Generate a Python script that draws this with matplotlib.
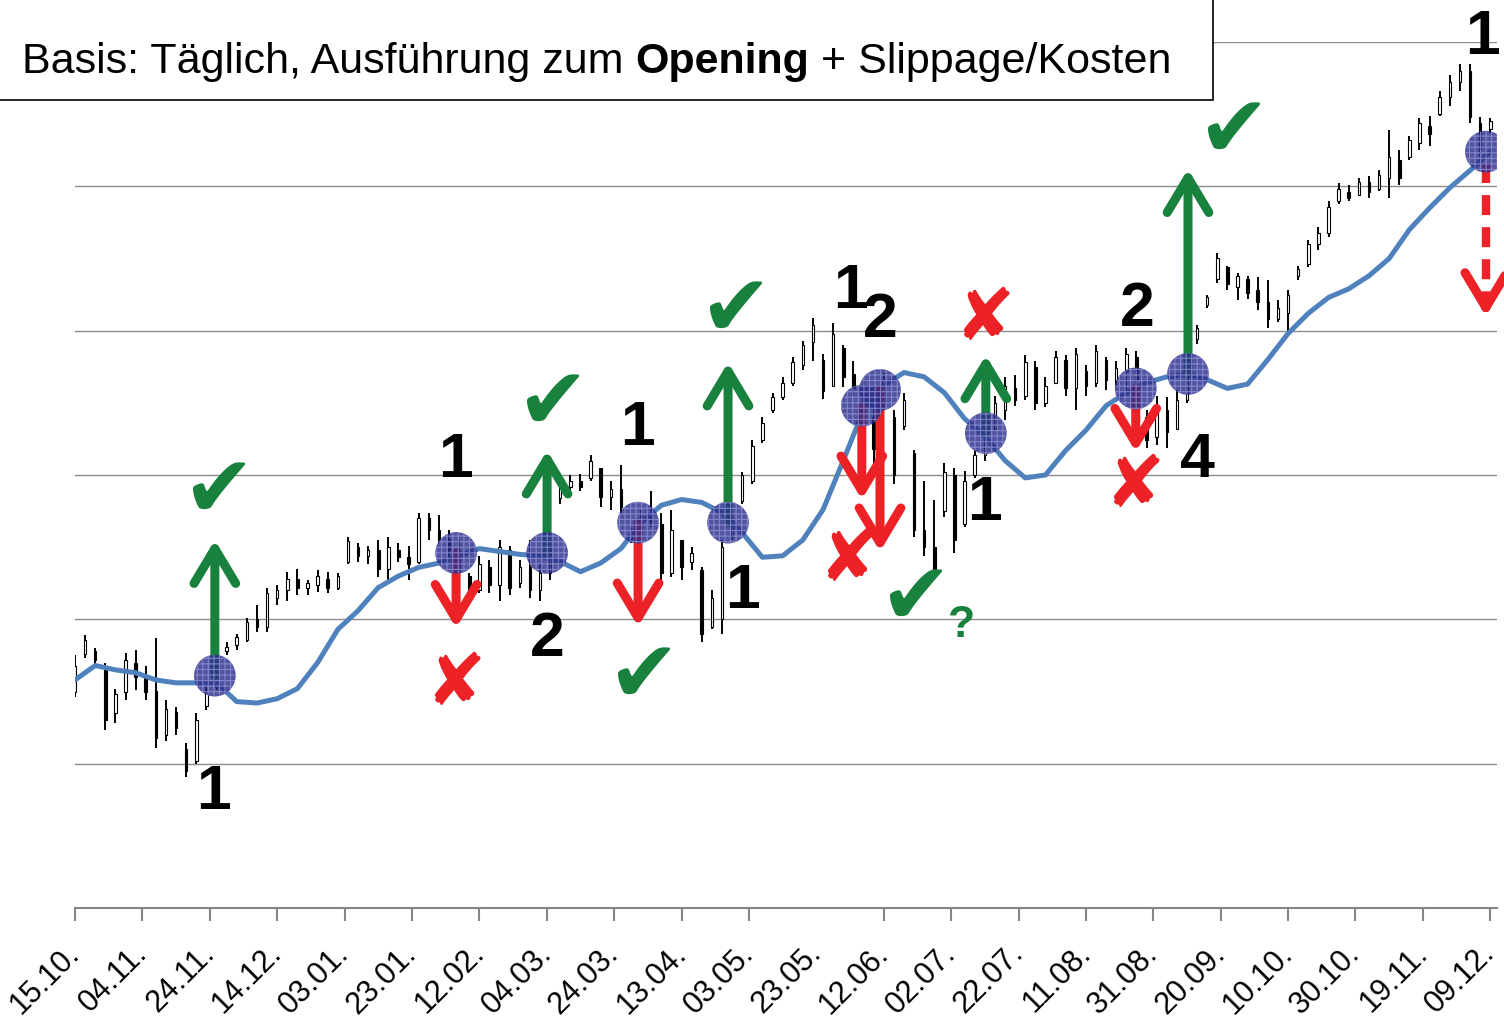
import numpy as np
import matplotlib
matplotlib.use('Agg')
import matplotlib.pyplot as plt
from matplotlib.patches import Rectangle

plt.rcParams['font.family'] = ['Liberation Sans', 'DejaVu Sans']
plt.rcParams['hatch.color'] = '#8E91CF'
plt.rcParams['hatch.linewidth'] = 0.8

# Kerzen alle 3 Kalendertage ab 15.10. (Tag 0)
bar_days = np.arange(0, 421, 3)
hi = [175, 189, 180, 170, 152, 177, 179, 168, 187, 144,
      139, 114, 135, 153, 168, 184, 190, 201, 210, 222,
      224, 233, 235, 227, 234, 233, 232, 257, 253, 251,
      255, 257, 253, 251, 274, 274, 272, 262, 255, 232,
      244, 241, 255, 251, 241, 255, 238, 255, 294, 300,
      301, 314, 305, 296, 307, 264, 276, 289, 274, 276,
      255, 250, 236, 220, 255, 274, 302, 324, 340, 357,
      368, 382, 393, 409, 384, 405, 390, 379, 366, 362,
      371, 345, 357, 317, 296, 283, 308, 305, 303, 317,
      331, 355, 368, 369, 383, 379, 368, 386, 383, 388,
      376, 390, 382, 379, 388, 386, 345, 355, 354, 359,
      376, 404, 425, 454, 445, 440, 438, 437, 435, 421,
      428, 445, 463, 472, 490, 502, 501, 506, 507, 511,
      539, 525, 535, 547, 549, 566, 577, 585, 585, 548,
      547]
lo = [146, 173, 168, 123, 128, 144, 151, 144, 111, 116,
      120, 91, 100, 137, 151, 175, 179, 184, 191, 191,
      210, 213, 217, 217, 219, 218, 220, 238, 240, 238,
      229, 227, 240, 227, 238, 255, 253, 241, 231, 213,
      218, 218, 213, 217, 222, 215, 213, 227, 280, 287,
      289, 296, 278, 276, 274, 253, 262, 264, 227, 229,
      227, 234, 184, 193, 190, 255, 280, 294, 322, 343,
      352, 362, 373, 379, 353, 366, 361, 355, 331, 305,
      345, 294, 331, 257, 244, 229, 271, 246, 264, 298,
      310, 331, 338, 348, 352, 345, 347, 364, 355, 345,
      355, 361, 359, 361, 359, 361, 319, 321, 319, 331,
      350, 391, 416, 433, 428, 421, 422, 414, 402, 406,
      398, 435, 444, 456, 465, 488, 490, 494, 492, 497,
      492, 501, 518, 525, 528, 549, 556, 566, 544, 520,
      537]
op = [150, 176, 178, 165, 135, 150, 170, 160, 150, 120,
      136, 110, 102, 140, 153, 178, 182, 186, 200, 195,
      215, 220, 228, 222, 224, 228, 222, 240, 250, 244,
      248, 235, 248, 243, 240, 270, 262, 256, 248, 230,
      220, 236, 224, 248, 225, 236, 220, 232, 284, 292,
      296, 298, 305, 285, 290, 262, 258, 272, 266, 232,
      255, 240, 234, 195, 200, 258, 282, 296, 324, 345,
      354, 364, 376, 392, 380, 362, 388, 370, 360, 340,
      350, 340, 334, 315, 262, 250, 275, 300, 266, 300,
      314, 332, 345, 360, 355, 375, 350, 364, 380, 360,
      372, 364, 380, 366, 372, 382, 340, 326, 345, 332,
      352, 394, 418, 436, 444, 430, 436, 428, 420, 408,
      412, 438, 446, 460, 468, 490, 496, 494, 503, 498,
      506, 518, 520, 530, 542, 550, 562, 572, 580, 544,
      540]
cl = [168, 186, 172, 130, 148, 172, 160, 150, 118, 138,
      125, 95, 130, 150, 165, 181, 188, 198, 195, 218,
      220, 228, 222, 225, 230, 222, 230, 254, 244, 248,
      235, 250, 243, 238, 270, 262, 256, 248, 236, 218,
      238, 224, 250, 222, 236, 220, 232, 250, 292, 296,
      292, 310, 285, 290, 278, 256, 272, 268, 232, 262,
      236, 246, 190, 215, 250, 270, 300, 320, 336, 354,
      364, 378, 390, 404, 358, 398, 368, 360, 338, 318,
      366, 300, 352, 262, 250, 235, 302, 255, 296, 314,
      326, 350, 362, 352, 378, 350, 362, 382, 360, 384,
      362, 386, 366, 374, 384, 366, 324, 348, 330, 352,
      372, 402, 423, 450, 432, 438, 426, 420, 408, 416,
      425, 443, 460, 468, 486, 498, 492, 503, 496, 508,
      520, 506, 532, 544, 536, 562, 572, 580, 548, 526,
      545]

ma_days = np.arange(0, 421, 6)
ma = [158, 168, 165, 163, 158, 156, 156, 156, 143, 142,
      145, 152, 170, 193, 206, 222, 230, 236, 239, 244,
      249, 247, 245, 244, 240, 233, 239, 249, 267, 279,
      283, 281, 274, 260, 243, 244, 255, 276, 310, 345,
      362, 371, 368, 357, 339, 327, 310, 298, 300, 317,
      331, 348, 357, 364, 368, 370, 366, 360, 363, 380,
      398, 412, 423, 429, 438, 450, 470, 485, 499, 511,
      524]

tick_days = np.arange(0, 421, 20)
tick_labels = ['15.10.', '04.11.', '24.11.', '14.12.', '03.01.', '23.01.',
               '12.02.', '04.03.', '24.03.', '13.04.', '03.05.', '23.05.',
               '12.06.', '02.07.', '22.07.', '11.08.', '31.08.', '20.09.',
               '10.10.', '30.10.', '19.11.', '09.12.']

# Kreuzungen Kurs / Durchschnitt und Pfeilspitzen
cross_days = [41.5, 113.1, 140.1, 167.1, 193.8, 233.5, 238.9, 270.3, 314.8, 330.3, 418.7]
cross_vals = [161, 246, 246, 267, 267, 348, 359, 329, 360, 370, 524]
arrow_tips = [255, 194, 317, 195, 378, 283, 247, 383, 316, 512, 410]

check_days = [42.4, 141.5, 168.5, 195.8, 343.6, 249.3]
check_vals = [287, 348, 159, 413, 537, 213]
fail_days = [112.8, 229.4, 270, 314.5]
fail_vals = [154, 240, 407, 291]
num_text = ['1', '1', '2', '1', '1', '1', '2', '1', '2', '4', '1']
num_days = [41, 112.8, 140, 166.8, 198.2, 230, 238.9, 270, 315.1, 333, 417.8]
num_vals = [80, 310, 186, 332, 219, 427, 407, 280, 415, 310, 603]

GREEN = '#17813D'
RED = '#EC2227'

fig = plt.figure(figsize=(15.04, 10.18), dpi=100)
ax = fig.add_axes([75 / 1504, 110 / 1018, 1422 / 1504, 866 / 1018])
ax.set_xlim(0, 422)
ax.set_ylim(0, 600)

hi, lo, op, cl = map(np.array, (hi, lo, op, cl))
up = cl >= op
ax.vlines(bar_days, lo, hi, color='black', lw=1.4, zorder=2)
ax.bar(bar_days[up], (cl - op)[up], bottom=op[up], width=0.75,
       color='white', edgecolor='black', lw=0.8, zorder=3)
ax.bar(bar_days[~up], (op - cl)[~up], bottom=cl[~up], width=0.75,
       color='black', edgecolor='black', lw=0.8, zorder=3)

ax.plot(ma_days, ma, color='#4F81BD', lw=3.6, solid_joinstyle='round',
        solid_capstyle='round', zorder=4)

# Pfeile
for i, (d, v0, v1) in enumerate(zip(cross_days, cross_vals, arrow_tips)):
    col = GREEN if v1 > v0 else RED
    props = dict(arrowstyle='->,head_length=1.25,head_width=0.75', lw=6.5, color=col,
                 shrinkA=0, shrinkB=0, mutation_scale=20,
                 capstyle='round', joinstyle='round')
    if i == len(cross_days) - 1:
        ax.plot([d, d], [v0 - 8, v1 + 10], color=col, lw=6, dashes=(2.4, 1.45), zorder=5)
        ax.annotate('', xy=(d, v1), xytext=(d, v1 + 12), arrowprops=props, zorder=5)
    else:
        ax.annotate('', xy=(d, v1), xytext=(d, v0), arrowprops=props, zorder=5)

ax.scatter(cross_days, cross_vals, s=900, facecolor='#2B2E8C', edgecolor='#8E91CF',
           hatch='+++', linewidth=0, alpha=0.82, zorder=6)

for d, v in zip(check_days, check_vals):
    ax.text(d, v, '\u2714', color=GREEN, fontsize=62, ha='center', va='center',
            family=['DejaVu Sans'], zorder=7)
ax.text(263.2, 196, '?', color=GREEN, fontsize=32, fontweight='bold',
        ha='center', va='center', zorder=7)
for d, v in zip(fail_days, fail_vals):
    ax.text(d, v, '\u2718', color=RED, fontsize=52, ha='center', va='center',
            family=['DejaVu Sans'], zorder=7)
for t, d, v in zip(num_text, num_days, num_vals):
    ax.text(d, v, t, fontsize=45, fontweight='bold', ha='center', va='center',
            clip_on=False, zorder=7)

# Achsen
ax.set_yticks(np.arange(0, 601, 100))
ax.yaxis.grid(True, color='#8C8C8C', lw=1.0)
ax.set_axisbelow(True)
ax.tick_params(axis='y', length=0, labelleft=False)
for s in ('top', 'left', 'right'):
    ax.spines[s].set_visible(False)
ax.spines['bottom'].set_color('#868686')
ax.spines['bottom'].set_linewidth(1.5)
ax.set_xticks(tick_days)
ax.set_xticklabels(tick_labels, rotation=45, ha='right', va='center',
                   rotation_mode='anchor', fontsize=22)
ax.tick_params(axis='x', direction='out', length=9.5, width=1.5, color='#868686', pad=20)
ax.xaxis.get_major_ticks()[11].tick1line.set_visible(False)

# Titelbox
fig.add_artist(Rectangle((-0.01, 1 - 100 / 1018), 0.01 + 1213 / 1504, 0.2,
                         transform=fig.transFigure, facecolor='white',
                         edgecolor='black', lw=1.2, zorder=10))
r = fig.canvas.get_renderer()
y_base = 1 - 73 / 1018
x = 22 / 1504
parts = [('Basis: Täglich, Ausführung zum ', 'normal'), ('Opening', 'bold'),
         (' + Slippage/Kosten', 'normal')]
for txt, w in parts:
    t = fig.text(x, y_base, txt, fontsize=31, fontweight=w, va='baseline', zorder=11)
    x = t.get_window_extent(r).x1 / fig.bbox.width

fig.savefig('out.png', dpi=100)
